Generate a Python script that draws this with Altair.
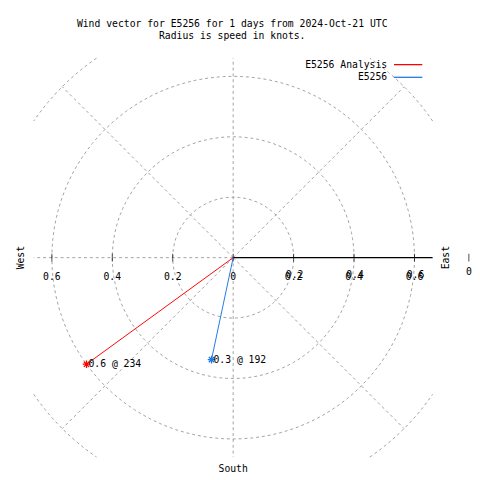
import numpy as np
import pandas as pd
import altair as alt

# ---- data ----
names = ["E5256 Analysis", "E5256"]
speeds = [0.6, 0.345]          # knots
directions = [234, 192]        # degrees, clockwise from north
point_labels = ["0.6 @ 234", "0.3 @ 192"]
colors = ["#ff0000", "#1e78e6"]

ring_radii = [0.2, 0.4, 0.6]
outer_ring = 0.8
tick_values = [-0.6, -0.4, -0.2, 0, 0.2, 0.4, 0.6]
left_tick_labels = ["0.6", "0.4", "0.2", "0"]
left_tick_pos = [-0.6, -0.4, -0.2, 0]
right_tick_labels = ["0.2", "0.4", "0.6"]
right_tick_pos = [0.2, 0.4, 0.6]
edge_tick = 0.78
title_lines = ["Wind vector for E5256 for 1 days from 2024-Oct-21 UTC",
               "Radius is speed in knots."]

# ---- geometry of the plot (layout) ----
W, H = 476, 472
CX, CY, K = 231, 250, 310.0
BOX = 0.66
xdom = [(0 - CX) / K, (W - CX) / K]
ydom = [(CY - H) / K, CY / K]
FONT = "DejaVu Sans Mono"
GRID = "#a0a0a0"
DX = 2  # horizontal shift of the annotations

xs = alt.Scale(domain=xdom, nice=False, zero=False)
ys = alt.Scale(domain=ydom, nice=False, zero=False)
X = lambda f: alt.X(f, type="quantitative", scale=xs, axis=None)
Y = lambda f: alt.Y(f, type="quantitative", scale=ys, axis=None)

# rings
rows = []
for i, r in enumerate(ring_radii):
    for j, a in enumerate(np.arange(0, 361, 3)):
        rows.append({"seg": f"r{i}", "o": j, "x": r * np.cos(np.radians(a)), "y": r * np.sin(np.radians(a))})
half = np.degrees(np.arccos(BOX / outer_ring))
for c in [45, 135, 225, 315]:
    for j, a in enumerate(np.linspace(c - (45 - half), c + (45 - half), 20)):
        rows.append({"seg": f"o{c}", "o": j, "x": outer_ring * np.cos(np.radians(a)),
                     "y": outer_ring * np.sin(np.radians(a))})
rings = pd.DataFrame(rows)

rad_rows = []
for a in [45, 135, 225, 315]:
    rad_rows.append({"x": 0.0, "y": 0.0, "x2": outer_ring * np.cos(np.radians(a)), "y2": outer_ring * np.sin(np.radians(a))})
for a in [90, 180, 270]:
    rad_rows.append({"x": 0.0, "y": 0.0, "x2": BOX * np.cos(np.radians(a)), "y2": BOX * np.sin(np.radians(a))})
radials = pd.DataFrame(rad_rows)

ring_layer = alt.Chart(rings).mark_line(color=GRID, strokeWidth=1, strokeDash=[3, 3]).encode(
    x=X("x"), y=Y("y"), detail="seg:N", order="o:Q")
radial_layer = alt.Chart(radials).mark_rule(color=GRID, strokeWidth=1, strokeDash=[3, 3]).encode(
    x=X("x"), y=Y("y"), x2="x2:Q", y2="y2:Q")

axis_line = alt.Chart(pd.DataFrame({"x": [0.0], "y": [0.0], "x2": [BOX]})).mark_rule(
    color="black", strokeWidth=1.3).encode(x=X("x"), y=Y("y"), x2="x2:Q")

ticks = alt.Chart(pd.DataFrame({"x": tick_values + [edge_tick], "y": [0.0] * (len(tick_values) + 1)})).mark_tick(
    orient="vertical", size=8, thickness=1, color="black").encode(x=X("x"), y=Y("y"))

lt = alt.Chart(pd.DataFrame({"x": left_tick_pos, "y": [0.0] * 4, "t": left_tick_labels})).mark_text(
    font=FONT, fontSize=10, dy=20, color="black").encode(x=X("x"), y=Y("y"), text="t:N")
rt_df = pd.DataFrame({"x": right_tick_pos, "y": [0.0] * 3, "t": right_tick_labels})
rt1 = alt.Chart(rt_df).mark_text(font=FONT, fontSize=10, dy=20, color="black").encode(
    x=X("x"), y=Y("y"), text="t:N")
rt2 = alt.Chart(rt_df).mark_text(font=FONT, fontSize=10, dy=18, dx=1, color="black").encode(
    x=X("x"), y=Y("y"), text="t:N")
edge0 = alt.Chart(pd.DataFrame({"x": [edge_tick], "y": [0.0], "t": ["0"]})).mark_text(
    font=FONT, fontSize=10, dy=15, color="black").encode(x=X("x"), y=Y("y"), text="t:N")

# vectors
rad = np.radians(directions)
ex = [s * np.sin(a) for s, a in zip(speeds, rad)]
ey = [s * np.cos(a) for s, a in zip(speeds, rad)]
vec = pd.DataFrame({
    "name": names * 2,
    "o": [0] * len(names) + [1] * len(names),
    "x": [0.0] * len(names) + ex,
    "y": [0.0] * len(names) + ey,
})
ends = pd.DataFrame({"name": names, "x": ex, "y": ey, "label": point_labels})
cscale = alt.Scale(domain=names, range=colors)

vec_layer = alt.Chart(vec).mark_line(strokeWidth=1).encode(
    x=X("x"), y=Y("y"), detail="name:N", order="o:Q",
    color=alt.Color("name:N", scale=cscale, legend=None))
star = "M-1,0L1,0M0,-1L0,1M-0.7,-0.7L0.7,0.7M-0.7,0.7L0.7,-0.7"
end_pts = alt.Chart(ends).mark_point(shape=star, size=60, filled=False, strokeWidth=1.3, opacity=1).encode(
    x=X("x"), y=Y("y"), color=alt.Color("name:N", scale=cscale, legend=None))
end_txt = alt.Chart(ends).mark_text(font=FONT, fontSize=10, align="left", dx=2, color="black").encode(
    x=X("x"), y=Y("y"), text="label:N")

# annotations
def txt(s, x, y, **kw):
    return alt.Chart(pd.DataFrame({"t": [s]})).mark_text(font=FONT, fontSize=10, color="black", **kw).encode(
        x=alt.value(x + DX), y=alt.value(y), text="t:N")

def seg(x1, x2, y, c):
    return alt.Chart(pd.DataFrame({"a": [0]})).mark_rule(color=c, strokeWidth=1.3).encode(
        x=alt.value(x1 + DX), x2=alt.value(x2 + DX), y=alt.value(y))

annots = [
    txt(title_lines[0], 228, 10),
    txt(title_lines[1], 228, 23),
    txt(names[0], 387, 52, align="right"),
    txt(names[1], 387, 65, align="right"),
    seg(394, 423, 52, colors[0]),
    seg(394, 423, 65, colors[1]),
    txt("West", 11, 250, angle=270),
    txt("East", 447, 250, angle=270),
    txt("South", 229, 467),
]

chart = alt.layer(
    ring_layer, radial_layer, axis_line, ticks, lt, rt1, rt2, edge0,
    vec_layer, end_pts, end_txt, *annots
).properties(
    width=W, height=H, padding=0, autosize=alt.AutoSizeParams(type="none"),
    background="white"
).configure_view(stroke=None)

chart.save("out.html", embed_options={"renderer": "svg", "actions": False})
